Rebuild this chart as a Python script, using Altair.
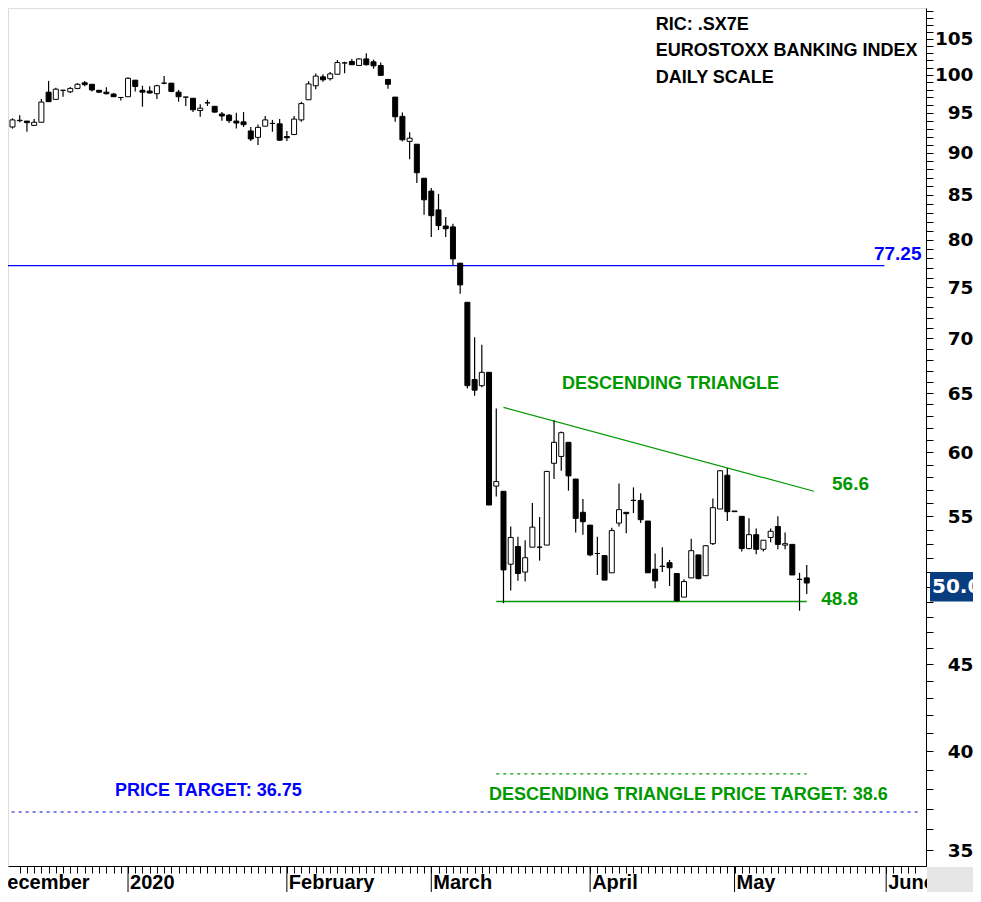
import altair as alt
import pandas as pd

# ---------------- data ----------------
day_index = list(range(-16, 95))  # trading-day index, 0 = first trading day of 2020

opens = [93.2, 94.0, 93.95, 93.4, 93.8, 97.7, 96.75, 97.95, 97.75, 98.2,
         98.95, 98.75, 97.95, 97.7, 97.45, 97.0,
         97.1, 99.3, 97.95, 97.85, 97.5, 98.9, 98.9, 97.7, 97.05, 96.9,
         95.3, 96.3, 95.85, 94.85, 94.7, 93.95, 93.85, 92.7, 91.9, 93.3,
         93.65, 93.6,
         92.0, 92.25, 94.1, 96.7, 98.55, 99.75, 99.5, 100.1, 101.65, 101.85,
         101.3, 102.2, 101.8, 101.3, 99.4, 97.05, 94.55, 91.4, 91.05, 86.95,
         85.45, 83.3, 81.5, 81.4, 77.5, 73.5, 66.2, 65.65, 66.85, 57.3,
         56.9, 51.55, 52.8, 51.0, 52.75, 52.75, 52.9, 59.1, 59.65, 60.8,
         57.85, 55.3,
         54.35, 52.3, 52.15, 50.95, 54.5, 55.3, 56.2, 56.2, 54.65, 51.2,
         51.4, 51.65, 50.9, 49.3, 50.6, 52.2, 50.75, 53.0, 55.55, 58.15,
         55.4, 55.0, 52.65, 53.65, 52.6, 53.45, 54.25, 52.9, 52.95, 50.5, 50.6]

highs = [94.3, 94.7, 93.95, 94.2, 96.8, 99.2, 98.3, 97.95, 98.4, 98.9,
         99.2, 98.75, 97.95, 98.35, 97.6, 97.0,
         99.7, 99.3, 98.55, 98.5, 98.7, 99.85, 98.9, 98.0, 97.05, 96.9,
         96.1, 96.7, 95.85, 95.1, 94.85, 95.0, 95.1, 93.2, 93.5, 94.6,
         94.1, 94.2,
         92.7, 94.6, 96.45, 99.15, 100.2, 100.1, 100.4, 102.05, 101.8, 102.2,
         102.3, 103.0, 102.1, 101.7, 99.4, 97.05, 95.05, 92.55, 91.05, 86.95,
         85.8, 85.1, 82.5, 81.75, 77.5, 73.5, 70.1, 69.4, 66.85, 63.65,
         56.9, 54.25, 53.5, 53.25, 56.0, 54.95, 58.5, 62.65, 61.7, 60.8,
         57.85, 56.3,
         54.35, 53.5, 52.15, 54.15, 57.5, 55.3, 57.2, 56.75, 54.65, 52.3,
         52.75, 51.85, 50.9, 50.5, 53.35, 52.2, 52.9, 56.35, 58.55, 58.7,
         55.4, 55.0, 54.85, 54.1, 53.25, 54.1, 55.0, 53.8, 52.95, 50.95, 51.5]

lows = [93.0, 93.8, 92.6, 93.4, 93.8, 96.45, 96.75, 97.1, 97.6, 98.1,
        98.5, 97.8, 97.6, 97.4, 97.1, 96.6,
        97.1, 97.8, 95.8, 97.5, 96.8, 98.75, 97.7, 96.45, 95.9, 95.1,
        94.5, 95.9, 95.0, 94.0, 93.7, 93.0, 93.2, 91.45, 90.95, 93.3,
        92.6, 91.45,
        91.45, 92.25, 93.85, 96.7, 98.1, 99.1, 99.25, 100.1, 100.25, 101.4,
        101.3, 101.3, 100.85, 99.95, 98.15, 93.85, 91.4, 89.2, 86.4, 82.75,
        80.3, 81.05, 80.3, 77.25, 74.35, 65.4, 64.75, 65.5, 55.85, 56.5,
        48.9, 49.75, 50.4, 50.35, 52.75, 51.8, 52.9, 57.85, 58.5, 56.95,
        53.8, 53.65,
        52.1, 50.8, 50.45, 50.95, 54.25, 53.75, 55.25, 54.5, 50.95, 49.9,
        51.0, 50.05, 49.0, 49.3, 50.6, 50.5, 50.75, 52.9, 55.55, 54.65,
        55.35, 52.45, 52.6, 52.25, 52.45, 53.1, 52.6, 52.6, 50.8, 48.4, 49.5]

closes = [94.1, 94.05, 93.75, 93.8, 96.4, 96.45, 98.1, 97.95, 98.2, 98.75,
          98.7, 98.0, 97.7, 97.5, 97.1, 97.0,
          99.55, 98.45, 97.7, 97.6, 98.55, 98.9, 97.8, 97.1, 97.05, 95.4,
          95.6, 96.3, 95.1, 94.6, 94.0, 93.7, 93.5, 91.7, 93.15, 94.1,
          93.65, 91.55,
          91.85, 94.2, 96.2, 98.8, 99.85, 99.35, 100.15, 101.7, 101.65, 101.4,
          102.2, 101.4, 101.25, 99.95, 98.75, 94.5, 91.6, 91.8, 87.6, 84.45,
          82.65, 81.55, 81.2, 77.95, 75.25, 65.65, 65.25, 66.85, 55.85, 57.65,
          51.15, 53.45, 50.9, 52.0, 54.2, 52.75, 58.45, 60.8, 61.6, 58.1,
          54.85, 54.6,
          52.2, 52.3, 50.45, 53.95, 55.5, 55.2, 56.2, 54.75, 50.95, 50.4,
          51.4, 51.3, 49.05, 50.35, 52.5, 50.55, 52.85, 55.65, 58.5, 55.35,
          55.35, 52.65, 53.65, 52.6, 53.25, 53.9, 52.95, 53.0, 50.8, 50.5, 50.25]

month_names = ["December", "2020", "February", "March", "April", "May", "June"]
month_start = [-19, 0, 22, 42, 64, 84, 105]

y_tick_values = list(range(35, 110))

resistance_x = [52, 95]
resistance_y = [63.75, 56.9]
support_x = [51, 94]
support_level = 49.0
pattern_target_level = 38.8
major_level = 77.25
major_target_level = 36.85
last_price = 50.0
last_price_label = "50.00"

ann_text = ["DESCENDING TRIANGLE", "56.6", "48.8", "77.25", "PRICE TARGET: 36.75",
            "DESCENDING TRIANGLE PRICE TARGET: 38.6", "RIC: .SX7E",
            "EUROSTOXX BANKING INDEX", "DAILY SCALE"]
ann_x = [60.1, 97.5, 96.0, 103.3, -1.8, 50.0, 73.1, 73.1, 73.1]
ann_y = [65.8, 57.5, 49.15, 78.45, 37.9, 37.7, 107.0, 103.3, 99.6]
ann_color = ["#009900", "#009900", "#009900", "#0000FF", "#0000FF",
             "#009900", "#000000", "#000000", "#000000"]
ann_size = [18, 19, 19, 19, 18, 18, 18, 18, 18]

# ---------------- layout ----------------
W, H = 918, 858
PX_PER_DAY = 7.3
X_DOMAIN = [-15.93, -15.93 + W / PX_PER_DAY]
Y_DOMAIN = [34.25, 109.5]

df = pd.DataFrame({"i": day_index, "open": opens, "high": highs,
                   "low": lows, "close": closes})
df["dir"] = ["up" if c >= o else "down" for o, c in zip(opens, closes)]

xs = alt.Scale(domain=X_DOMAIN, nice=False, zero=False)
ys = alt.Scale(type="log", domain=Y_DOMAIN, nice=False, zero=False)

x_axis = alt.Axis(values=list(range(-15, 110)), tickSize=7, labels=False, title=None,
                  grid=False, domainColor="black", tickColor="black",
                  domainWidth=1, tickWidth=1)
y_axis = alt.Axis(orient="right", values=y_tick_values,
                  labelExpr="(datum.value % 5 == 0 && datum.value != 50) ? format(datum.value, 'd') : ''",
                  tickSize=7, labelPadding=40, labelAlign="right",
                  labelFont="DejaVu Sans", labelFontSize=18.5, labelFontWeight="bold",
                  labelColor="black", labelOverlap=False, labelFlush=False,
                  grid=False, title=None, domainColor="black", tickColor="black",
                  domainWidth=1, tickWidth=1)


def XQ(field):
    return alt.X(field, type="quantitative", scale=xs, axis=x_axis)


def YQ(field):
    return alt.Y(field, type="quantitative", scale=ys, axis=y_axis)


base = alt.Chart(df)

wicks = base.mark_rule(color="black", strokeWidth=1.2).encode(
    x=XQ("i"), y=YQ("low"), y2="high:Q")

bodies = base.mark_bar(size=5, stroke="black", strokeWidth=1).encode(
    x=XQ("i"), y=YQ("open"), y2="close:Q",
    fill=alt.Fill("dir:N", scale=alt.Scale(domain=["up", "down"],
                                           range=["white", "black"]), legend=None),
)

one = pd.DataFrame({"k": [0]})

blue_line = alt.Chart(pd.DataFrame({"x0": [-20], "x1": [104.75], "v": [major_level]})).mark_rule(
    color="#0000FF", strokeWidth=1.3, clip=True).encode(
    x=XQ("x0"), x2="x1:Q", y=YQ("v"))

blue_target = alt.Chart(pd.DataFrame({"x0": [-20], "x1": [109.7], "v": [major_target_level]})).mark_rule(
    color="#0000CC", strokeWidth=1.2, strokeDash=[3, 4], clip=True).encode(
    x=XQ("x0"), x2="x1:Q", y=YQ("v"))

resist = alt.Chart(pd.DataFrame({"x0": [resistance_x[0]], "x1": [resistance_x[1]],
                                 "v0": [resistance_y[0]], "v1": [resistance_y[1]]})).mark_rule(
    color="#009900", strokeWidth=1.2).encode(
    x=XQ("x0"), x2="x1:Q", y=YQ("v0"), y2="v1:Q")

support = alt.Chart(pd.DataFrame({"x0": [support_x[0]], "x1": [support_x[1]],
                                  "v": [support_level]})).mark_rule(
    color="#009900", strokeWidth=1.5).encode(
    x=XQ("x0"), x2="x1:Q", y=YQ("v"))

green_target = alt.Chart(pd.DataFrame({"x0": [support_x[0]], "x1": [support_x[1]],
                                       "v": [pattern_target_level]})).mark_rule(
    color="#009900", strokeWidth=1.2, strokeDash=[3, 4]).encode(
    x=XQ("x0"), x2="x1:Q", y=YQ("v"))

ann_df = pd.DataFrame({"t": ann_text, "x": ann_x, "y": ann_y,
                       "c": ann_color, "s": ann_size})
annotations = alt.Chart(ann_df).mark_text(
    align="left", baseline="middle", font="Liberation Sans", fontWeight="bold").encode(
    x=XQ("x"), y=YQ("y"),
    text="t:N",
    color=alt.Color("c:N", scale=None),
    size=alt.Size("s:Q", scale=None),
)

m_df = pd.DataFrame({"name": month_names, "start": month_start})
month_rules = alt.Chart(m_df[m_df["start"] >= X_DOMAIN[0]]).mark_rule(
    color="black", strokeWidth=1, clip=False).encode(
    x=XQ("start"), y=alt.value(H), y2=alt.value(H + 40))

month_text = alt.Chart(m_df).mark_text(
    align="left", baseline="alphabetic", dx=2, font="Liberation Sans",
    fontWeight="bold", fontSize=20, color="black", clip=False).encode(
    x=XQ("start"), y=alt.value(H + 23), text="name:N")

corner = alt.Chart(one).mark_rect(color="#e6e6e6", clip=False).encode(
    x=alt.value(W + 1), x2=alt.value(W + 60), y=alt.value(H + 1), y2=alt.value(H + 40))

price_box = alt.Chart(pd.DataFrame({"hi": [last_price * 1.02], "lo": [last_price * 0.98]})).mark_rect(
    color="#083D7F", clip=False).encode(
    x=alt.value(W + 4), x2=alt.value(W + 60),
    y=YQ("hi"), y2="lo:Q")

price_text = alt.Chart(pd.DataFrame({"v": [last_price], "t": [last_price_label]})).mark_text(
    align="left", baseline="middle", font="DejaVu Sans", fontWeight="bold",
    fontSize=20, color="white", clip=False).encode(
    x=alt.value(W + 6), y=YQ("v"), text="t:N")

chart = alt.layer(
    blue_line, blue_target, resist, support, green_target,
    wicks, bodies, annotations, month_rules, month_text, corner, price_box, price_text,
).properties(
    width=W, height=H,
    autosize=alt.AutoSizeParams(type="none"),
    padding={"left": 0, "top": 0, "right": 47, "bottom": 26},
).configure_view(strokeWidth=0).configure(background="white")

chart.save("out.html", embed_options={"renderer": "svg", "actions": False})
